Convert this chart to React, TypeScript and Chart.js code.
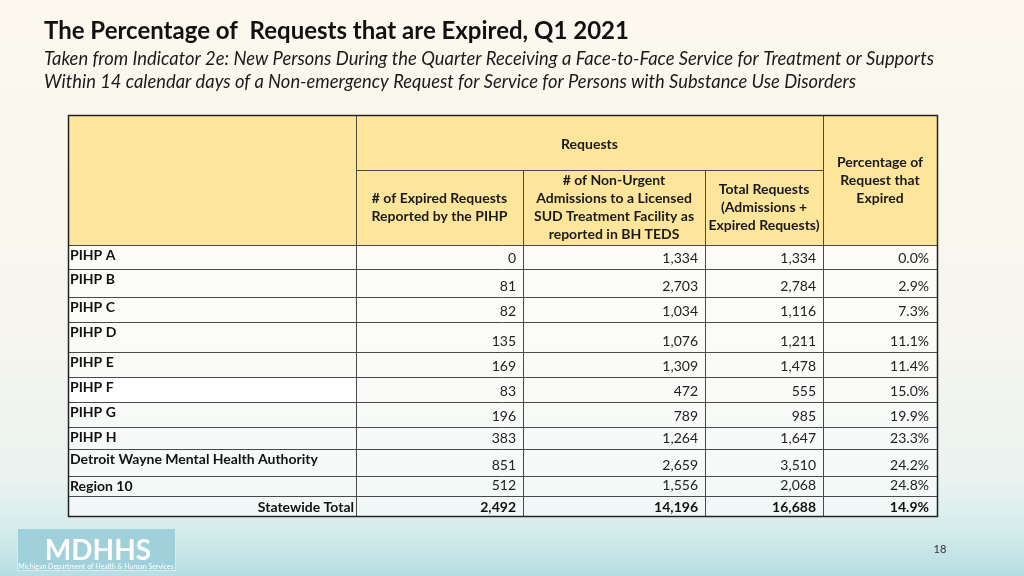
import React, { useEffect, useRef } from 'react';
import { Chart, registerables } from 'chart.js';

Chart.register(...registerables);

// ---------- text & data ----------
const TITLE = 'The Percentage of  Requests that are Expired, Q1 2021';
const SUBTITLE = [
  'Taken from Indicator 2e: New Persons During the Quarter Receiving a Face-to-Face Service for Treatment or Supports',
  'Within 14 calendar days of a Non-emergency Request for Service for Persons with Substance Use Disorders',
];
const GROUP_HEADER = 'Requests';
const COLUMN_HEADERS = [
  ['# of Expired Requests', 'Reported by the PIHP'],
  ['# of Non-Urgent', 'Admissions to a Licensed', 'SUD Treatment Facility as', 'reported in BH TEDS'],
  ['Total Requests', '(Admissions +', 'Expired Requests)'],
  ['Percentage of', 'Request that', 'Expired'],
];
const REGIONS = [
  'PIHP A',
  'PIHP B',
  'PIHP C',
  'PIHP D',
  'PIHP E',
  'PIHP F',
  'PIHP G',
  'PIHP H',
  'Detroit Wayne Mental Health Authority',
  'Region 10',
];
const EXPIRED = [0, 81, 82, 135, 169, 83, 196, 383, 851, 512];
const ADMISSIONS = [1334, 2703, 1034, 1076, 1309, 472, 789, 1264, 2659, 1556];
const TOTAL_REQUESTS = [1334, 2784, 1116, 1211, 1478, 555, 985, 1647, 3510, 2068];
const PCT_EXPIRED = [0.0, 2.9, 7.3, 11.1, 11.4, 15.0, 19.9, 23.3, 24.2, 24.8];
const TOTAL_LABEL = 'Statewide Total';
const STATEWIDE_TOTALS = [2492, 14196, 16688];
const STATEWIDE_PCT = 14.9;
const PAGE_NUMBER = '18';
const LOGO_TEXT = 'MDHHS';
const LOGO_SUB = 'Michigan Department of Health & Human Services';

// ---------- layout (scale units) ----------
const COL_EDGES = [0, 288, 455, 637, 755, 869];
const HEADER_SPLIT = 55;
const HEADER_H = 130;
const ROW_HEIGHTS = [24, 28, 25, 30, 25, 25, 25, 22, 27, 20, 20];
const TABLE_H = HEADER_H + ROW_HEIGHTS.reduce((a, b) => a + b, 0);

const FONT = 'Lato, "Open Sans", sans-serif';
const HEADER_FILL = '#fde69b';
const LINE = '#4a4a4a';

const fmt = (n: number) => n.toLocaleString('en-US');
const fmtPct = (n: number) => n.toFixed(1) + '%';

const tablePlugin = {
  id: 'tablePlugin',
  beforeDraw(chart: any) {
    const { ctx, width, height } = chart;
    ctx.save();
    const g = ctx.createLinearGradient(0, 0, 0, height);
    g.addColorStop(0, '#fcf8ee');
    g.addColorStop(0.55, '#f7f6ee');
    g.addColorStop(0.82, '#ebf3f0');
    g.addColorStop(0.92, '#d6ecec');
    g.addColorStop(1, '#b6dde2');
    ctx.fillStyle = g;
    ctx.fillRect(0, 0, width, height);

    // title
    ctx.fillStyle = '#111';
    ctx.textBaseline = 'alphabetic';
    ctx.textAlign = 'left';
    ctx.font = `bold 24px ${FONT}`;
    ctx.fillText(TITLE, 44, 39, 594);
    ctx.font = `italic 18.4px ${FONT}`;
    ctx.fillStyle = '#1a1a1a';
    ctx.fillText(SUBTITLE[0], 44, 65, 890);
    ctx.fillText(SUBTITLE[1], 44, 88, 812);

    // logo
    ctx.fillStyle = '#a0d1da';
    ctx.fillRect(17, 528, 159, 43);
    ctx.strokeStyle = '#d5ecef';
    ctx.lineWidth = 1;
    ctx.strokeRect(17.5, 528.5, 158, 42);
    ctx.fillStyle = '#ffffff';
    ctx.textAlign = 'center';
    ctx.font = `bold 28px ${FONT}`;
    ctx.fillText(LOGO_TEXT, 98, 560, 108);
    ctx.font = `7px ${FONT}`;
    ctx.fillText(LOGO_SUB, 96, 569, 156);

    // page number
    ctx.fillStyle = '#333';
    ctx.font = `11px ${FONT}`;
    ctx.fillText(PAGE_NUMBER, 940, 553);
    ctx.restore();
  },
  afterDraw(chart: any) {
    const { ctx } = chart;
    const xs = chart.scales.x;
    const ys = chart.scales.y;
    const X = (v: number) => xs.getPixelForValue(v);
    const Y = (v: number) => ys.getPixelForValue(v);
    const L = (p: number) => Math.round(p) + 0.5;
    const x0 = X(COL_EDGES[0]);
    const x1 = X(COL_EDGES[COL_EDGES.length - 1]);

    ctx.save();
    const rowTops: number[] = [];
    let acc = HEADER_H;
    for (const h of ROW_HEIGHTS) {
      rowTops.push(acc);
      acc += h;
    }

    // header fill
    ctx.fillStyle = HEADER_FILL;
    ctx.fillRect(x0, Y(0), x1 - x0, Y(HEADER_H) - Y(0));

    // body fill
    ctx.fillStyle = 'rgba(255,255,255,0.55)';
    ctx.fillRect(x0, Y(HEADER_H), x1 - x0, Y(TABLE_H) - Y(HEADER_H));
    const fIdx = REGIONS.indexOf('PIHP F');
    ctx.fillStyle = 'rgba(255,255,255,0.9)';
    ctx.fillRect(
      X(COL_EDGES[0]),
      Y(rowTops[fIdx]),
      X(COL_EDGES[1]) - X(COL_EDGES[0]),
      Y(rowTops[fIdx] + ROW_HEIGHTS[fIdx]) - Y(rowTops[fIdx]),
    );

    // grid lines
    ctx.strokeStyle = LINE;
    ctx.lineWidth = 1;
    ctx.beginPath();
    ctx.moveTo(X(COL_EDGES[1]), L(Y(HEADER_SPLIT)));
    ctx.lineTo(X(COL_EDGES[4]), L(Y(HEADER_SPLIT)));
    for (let i = 0; i < rowTops.length; i++) {
      ctx.moveTo(x0, L(Y(rowTops[i])));
      ctx.lineTo(x1, L(Y(rowTops[i])));
    }
    ctx.moveTo(L(X(COL_EDGES[1])), Y(0));
    ctx.lineTo(L(X(COL_EDGES[1])), Y(TABLE_H));
    ctx.moveTo(L(X(COL_EDGES[4])), Y(0));
    ctx.lineTo(L(X(COL_EDGES[4])), Y(TABLE_H));
    ctx.moveTo(L(X(COL_EDGES[2])), Y(HEADER_SPLIT));
    ctx.lineTo(L(X(COL_EDGES[2])), Y(TABLE_H));
    ctx.moveTo(L(X(COL_EDGES[3])), Y(HEADER_SPLIT));
    ctx.lineTo(L(X(COL_EDGES[3])), Y(TABLE_H));
    ctx.stroke();

    // outer border
    ctx.strokeStyle = '#222';
    ctx.lineWidth = 1.5;
    ctx.strokeRect(L(x0), L(Y(0)), Math.round(x1 - x0), Math.round(Y(TABLE_H) - Y(0)));

    // header text
    ctx.fillStyle = '#1a1a1a';
    ctx.textAlign = 'center';
    ctx.textBaseline = 'middle';
    ctx.font = `bold 14px ${FONT}`;
    const lh = 18;
    ctx.fillText(GROUP_HEADER, (X(COL_EDGES[1]) + X(COL_EDGES[4])) / 2, (Y(0) + Y(HEADER_SPLIT)) / 2 + 2);
    COLUMN_HEADERS.forEach((lines, c) => {
      const cx = (X(COL_EDGES[c + 1]) + X(COL_EDGES[c + 2])) / 2;
      const top = c === 3 ? Y(0) : Y(HEADER_SPLIT);
      const cy = (top + Y(HEADER_H)) / 2;
      const maxW = X(COL_EDGES[c + 2]) - X(COL_EDGES[c + 1]) - 4;
      lines.forEach((t, k) => {
        ctx.fillText(t, cx, cy + (k - (lines.length - 1) / 2) * lh, maxW);
      });
    });

    // body rows
    REGIONS.forEach((name, r) => {
      const top = Y(rowTops[r]);
      const bot = Y(rowTops[r] + ROW_HEIGHTS[r]);
      ctx.textAlign = 'left';
      ctx.font = `bold 14px ${FONT}`;
      ctx.fillStyle = '#111';
      ctx.fillText(name, x0 + 2, top + 10);
      ctx.font = `14px ${FONT}`;
      ctx.fillStyle = '#222';
      ctx.textAlign = 'right';
      const vals = [fmt(EXPIRED[r]), fmt(ADMISSIONS[r]), fmt(TOTAL_REQUESTS[r]), fmtPct(PCT_EXPIRED[r])];
      vals.forEach((v, c) => {
        const pad = c === 3 ? 8 : 7;
        ctx.fillText(v, X(COL_EDGES[c + 2]) - pad, bot - 11);
      });
    });

    // total row
    const tr = rowTops.length - 1;
    const tTop = Y(rowTops[tr]);
    const tBot = Y(rowTops[tr] + ROW_HEIGHTS[tr]);
    const tMid = (tTop + tBot) / 2 + 1;
    ctx.font = `bold 14px ${FONT}`;
    ctx.fillStyle = '#111';
    ctx.textAlign = 'right';
    ctx.fillText(TOTAL_LABEL, X(COL_EDGES[1]) - 2, tMid);
    const tv = [...STATEWIDE_TOTALS.map(fmt), fmtPct(STATEWIDE_PCT)];
    tv.forEach((v, c) => {
      const pad = c === 3 ? 8 : 7;
      ctx.fillText(v, X(COL_EDGES[c + 2]) - pad, tMid);
    });
    ctx.restore();
  },
};

export default function App() {
  const ref = useRef<HTMLCanvasElement | null>(null);
  useEffect(() => {
    if (!ref.current) return;
    const chart = new Chart(ref.current, {
      type: 'scatter',
      data: { datasets: [] },
      options: {
        responsive: false,
        animation: false,
        devicePixelRatio: 1,
        layout: { padding: { left: 68, right: 1024 - 937, top: 115, bottom: 576 - 516 } },
        plugins: { legend: { display: false }, title: { display: false }, tooltip: { enabled: false } },
        scales: {
          x: { type: 'linear', min: COL_EDGES[0], max: COL_EDGES[COL_EDGES.length - 1], display: false },
          y: { type: 'linear', min: 0, max: TABLE_H, reverse: true, display: false },
        },
      },
      plugins: [tablePlugin],
    });
    return () => chart.destroy();
  }, []);
  return (
    <div style={{ position: 'fixed', left: 0, top: 0, width: 1024, height: 576, overflow: 'hidden' }}>
      <canvas ref={ref} width={1024} height={576} style={{ display: 'block' }} />
    </div>
  );
}
